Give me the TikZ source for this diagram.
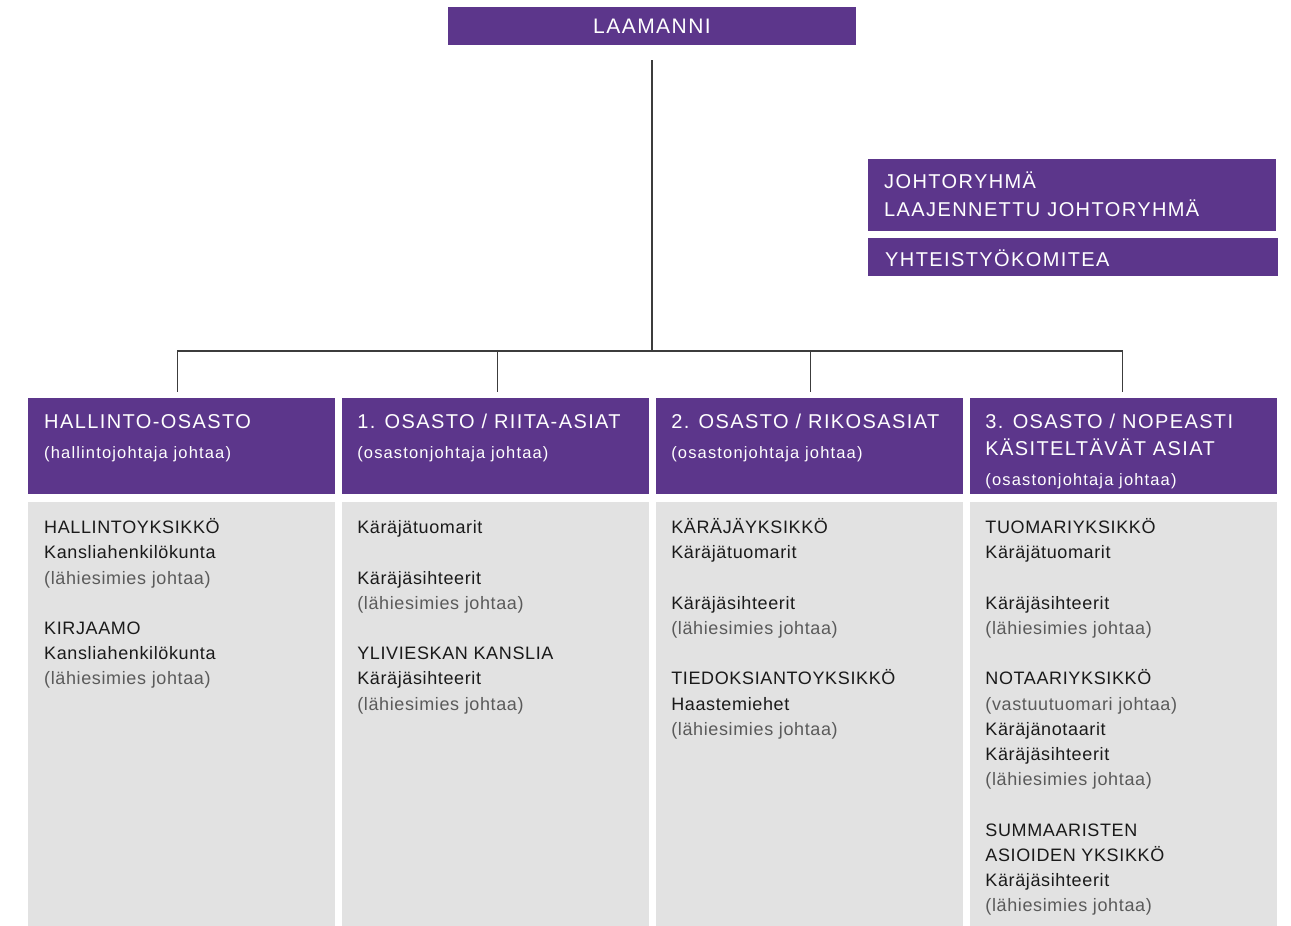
\documentclass[tikz,border=0pt]{standalone}
\usepackage{fontspec}
\setmainfont{Liberation Sans}[LetterSpace=3.5]
\newfontfamily\headfont{Liberation Sans}[LetterSpace=7]
\usetikzlibrary{
  calc,
  positioning}
\definecolor{courtpurple}{HTML}{5C368B}
\definecolor{unitgray}{HTML}{E2E2E2}
\definecolor{leadgray}{HTML}{5A5A5A}
\definecolor{inkblack}{HTML}{1A1A1A}
\definecolor{linegray}{HTML}{3C3C3C}
% Light grey text for who leads a unit.
\newcommand{\leader}[1]{{\color{leadgray}#1}}
\tikzset{
  purplebox/.style={%
    fill=courtpurple,
    inner sep=0pt,
    text=white
  },
  headbox/.style={%
    purplebox,
    minimum width=307pt,
    minimum height=96pt
  },
  unitbox/.style={%
    fill=unitgray,
    inner sep=0pt,
    minimum width=307pt,
    minimum height=425pt
  },
  headtext/.style={%
    inner sep=0pt,
    anchor=north west,
    align=left,
    text=white,
    font=\headfont\fontsize{20}{27}\selectfont
  },
  unittext/.style={%
    inner sep=0pt,
    anchor=north west,
    align=left,
    text=inkblack,
    font=\fontsize{18}{25.2}\selectfont
  },
  orgline/.style={%
    draw=linegray,
    line width=1.2pt
  }%
}
\newcommand{\subhead}[1]{{\fontsize{16.5}{20}\selectfont #1}}

\begin{document}
\begin{tikzpicture}[x=1pt,y=-1pt]
\useasboundingbox (0,0) rectangle (1291,926);

% Top of the chart.
\node[purplebox, minimum width=408pt, minimum height=38pt,
  font=\headfont\fontsize{21}{25}\selectfont] (laamanni) at (652,26) {LAAMANNI};

% Boards beside the line.
\node[purplebox, anchor=north west, minimum width=408pt, minimum height=72pt]
  (johto) at (868,159) {};
\node[headtext, font=\headfont\fontsize{20}{28}\selectfont]
  (johtoText) at ($(johto.north west)+(16pt,-9.4pt)$)
  {\strut JOHTORYHMÄ\\LAAJENNETTU JOHTORYHMÄ};
\node[purplebox, anchor=north west, minimum width=410pt, minimum height=38pt]
  (yhteis) at (868,238) {};
\node[inner sep=0pt, anchor=base west, text=white,
  font=\headfont\fontsize{20}{27}\selectfont]
  (yhteisText) at ($(yhteis.south west)+(17pt,10pt)$) {YHTEISTYÖKOMITEA};

% Department headers, side by side.
\node[headbox, anchor=north west] (headA) at (28,398) {};
\node[headbox, right=6.67pt of headA] (headB) {};
\node[headbox, right=6.67pt of headB] (headC) {};
\node[headbox, right=6.67pt of headC] (headD) {};

% Grey unit boxes under the headers.
\node[unitbox, below=7pt of headA] (unitA) {};
\node[unitbox, below=7pt of headB] (unitB) {};
\node[unitbox, below=7pt of headC] (unitC) {};
\node[unitbox, below=7pt of headD] (unitD) {};

\node[headtext] (titleA) at ($(headA.north west)+(16pt,-11.6pt)$)
  {\strut HALLINTO-OSASTO\\[3pt]\subhead{(hallintojohtaja johtaa)}};
\node[headtext] (titleB) at ($(headB.north west)+(15pt,-11.6pt)$)
  {\strut 1. OSASTO / RIITA-ASIAT\\[3pt]\subhead{(osastonjohtaja johtaa)}};
\node[headtext] (titleC) at ($(headC.north west)+(15pt,-11.6pt)$)
  {\strut 2. OSASTO / RIKOSASIAT\\[3pt]\subhead{(osastonjohtaja johtaa)}};
\node[headtext] (titleD) at ($(headD.north west)+(15pt,-11.6pt)$)
  {\strut 3. OSASTO / NOPEASTI\\KÄSITELTÄVÄT ASIAT\\[3pt]\subhead{(osastonjohtaja johtaa)}};

\node[unittext] (textA) at ($(unitA.north west)+(16pt,-14.4pt)$)
  {\strut HALLINTOYKSIKKÖ\\Kansliahenkilökunta\\\leader{(lähiesimies johtaa)}\\[25.2pt]
   KIRJAAMO\\Kansliahenkilökunta\\\leader{(lähiesimies johtaa)}};
\node[unittext] (textB) at ($(unitB.north west)+(15pt,-14.4pt)$)
  {\strut Käräjätuomarit\\[25.2pt]
   Käräjäsihteerit\\\leader{(lähiesimies johtaa)}\\[25.2pt]
   YLIVIESKAN KANSLIA\\Käräjäsihteerit\\\leader{(lähiesimies johtaa)}};
\node[unittext] (textC) at ($(unitC.north west)+(15pt,-14.4pt)$)
  {\strut KÄRÄJÄYKSIKKÖ\\Käräjätuomarit\\[25.2pt]
   Käräjäsihteerit\\\leader{(lähiesimies johtaa)}\\[25.2pt]
   TIEDOKSIANTOYKSIKKÖ\\Haastemiehet\\\leader{(lähiesimies johtaa)}};
\node[unittext] (textD) at ($(unitD.north west)+(15pt,-14.4pt)$)
  {\strut TUOMARIYKSIKKÖ\\Käräjätuomarit\\[25.2pt]
   Käräjäsihteerit\\\leader{(lähiesimies johtaa)}\\[25.2pt]
   NOTAARIYKSIKKÖ\\\leader{(vastuutuomari johtaa)}\\Käräjänotaarit\\
   Käräjäsihteerit\\\leader{(lähiesimies johtaa)}\\[25.2pt]
   SUMMAARISTEN\\ASIOIDEN YKSIKKÖ\\Käräjäsihteerit\\\leader{(lähiesimies johtaa)}};

% Connecting lines: trunk down from the top, then one drop per department
% (the drops sit a little off the header centres, as in the original).
\coordinate[below=15pt of laamanni] (trunk);
\coordinate (bar) at (trunk |- 0,351);
\draw[orgline] (trunk) -- (bar);
\foreach \h/\dx in {headA/-4.5,headB/1.5,headC/0.5,headD/-1.5}
  \draw[orgline] (bar) -| ([xshift=\dx pt,yshift=6pt]\h.north);

\end{tikzpicture}
\end{document}
